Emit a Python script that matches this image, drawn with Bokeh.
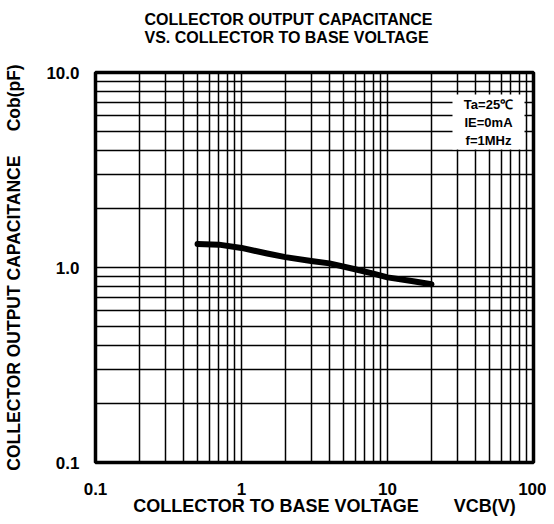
from bokeh.plotting import figure
from bokeh.models import FixedTicker, Label, BoxAnnotation, Title
from bokeh.embed import file_html
from bokeh.resources import INLINE

# ---- data ----
vcb = [0.5, 0.7, 1.0, 1.5, 2.0, 3.0, 4.0, 6.0, 8.0, 10.0, 15.0, 20.0]
cob = [1.32, 1.31, 1.26, 1.18, 1.13, 1.08, 1.05, 0.98, 0.93, 0.89, 0.85, 0.82]

x_ticks = [0.1, 1, 10, 100]
x_tick_labels = ["0.1", "1", "10", "100"]
y_ticks = [0.1, 1, 10]
y_tick_labels = ["0.1", "1.0", "10.0"]
conditions = ["Ta=25\u2103", "IE=0mA", "f=1MHz"]

title_lines = ["COLLECTOR OUTPUT CAPACITANCE", "VS. COLLECTOR TO BASE VOLTAGE"]
NB = "\u00a0"
x_label = NB * 4 + "COLLECTOR TO BASE VOLTAGE" + NB * 7 + "VCB(V)"
y_label = "COLLECTOR OUTPUT CAPACITANCE" + NB * 5 + "Cob(pF)"

FONT = "Liberation Sans"

minor = [m * d for d in (0.1, 1, 10) for m in range(2, 10)]

p = figure(
    x_axis_type="log", y_axis_type="log",
    x_range=(0.1, 100), y_range=(0.1, 10),
    width=546, height=520,
    min_border_left=95, min_border_right=13,
    min_border_top=72, min_border_bottom=58,
    output_backend="svg", toolbar_location=None,
    background_fill_color="white", border_fill_color="white",
)

p.outline_line_color = "black"
p.outline_line_width = 3.5

p.xaxis.ticker = FixedTicker(ticks=x_ticks, minor_ticks=minor)
p.yaxis.ticker = FixedTicker(ticks=y_ticks, minor_ticks=[m for m in minor if m < 10])
p.xaxis.major_label_overrides = dict(zip(x_ticks, x_tick_labels))
p.yaxis.major_label_overrides = dict(zip(y_ticks, y_tick_labels))

for ax in (p.xaxis, p.yaxis):
    ax.axis_line_color = None
    ax.major_tick_line_color = None
    ax.minor_tick_line_color = None
    ax.major_tick_out = 0
    ax.major_tick_in = 0
    ax.minor_tick_out = 0
    ax.minor_tick_in = 0
    ax.major_label_text_font = FONT
    ax.major_label_text_font_style = "bold"
    ax.major_label_text_font_size = "17px"
    ax.major_label_text_color = "black"
    ax.axis_label_text_font = FONT
    ax.axis_label_text_font_style = "bold"
    ax.axis_label_text_color = "black"

p.xaxis.axis_label_text_font_size = "18px"
p.yaxis.axis_label_text_font_size = "17.5px"
p.xaxis.axis_label = x_label
p.yaxis.axis_label = y_label
p.xaxis.major_label_standoff = 20
p.xaxis.axis_label_standoff = -2
p.yaxis.major_label_standoff = 16
p.yaxis.axis_label_standoff = 19

for g in (p.xgrid, p.ygrid):
    g.grid_line_color = "black"
    g.grid_line_width = 1.5
    g.grid_line_alpha = 1.0
    g.minor_grid_line_color = "black"
    g.minor_grid_line_width = 1.5

# curve
p.line(vcb, cob, line_color="black", line_width=6, line_cap="round", line_join="round")

# white box behind the test-condition text
p.add_layout(BoxAnnotation(left=357, right=429, top=368, bottom=313,
                           left_units="screen", right_units="screen",
                           top_units="screen", bottom_units="screen",
                           fill_color="white", fill_alpha=1.0, line_color=None))
for i, t in enumerate(conditions):
    p.add_layout(Label(x=393, y=358 - 18 * i, x_units="screen", y_units="screen",
                       text=t, text_align="center", text_baseline="middle",
                       text_font=FONT, text_font_style="bold", text_font_size="13px",
                       text_color="black"))

# two-line title (a blank third line lifts it clear of the frame)
p.add_layout(Title(text="\n".join(title_lines + [NB]), align="left", offset=49,
                   text_font=FONT, text_font_style="bold", text_font_size="16px",
                   text_color="black", text_line_height=1.06, standoff=17), "above")

open("out.html", "w").write(file_html(p, INLINE))
